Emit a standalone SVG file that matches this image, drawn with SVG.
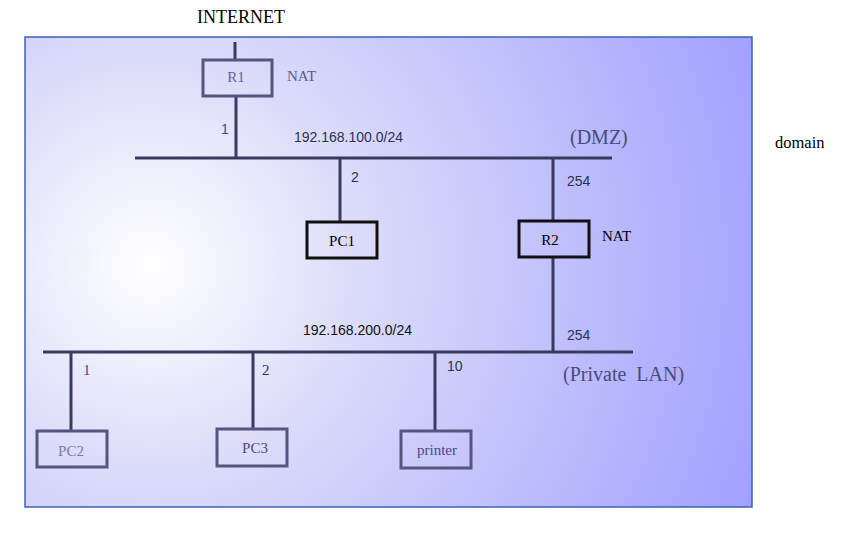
<svg xmlns="http://www.w3.org/2000/svg" width="860" height="550" viewBox="0 0 860 550">
<defs>
<radialGradient id="bg" gradientUnits="userSpaceOnUse" cx="150" cy="265" r="680" fx="150" fy="265">
<stop offset="0" stop-color="#ffffff"/>
<stop offset="0.3" stop-color="#dcdcfa"/>
<stop offset="1" stop-color="#9c9cff"/>
</radialGradient>
<style>
.ser{font-family:"Liberation Serif","Times New Roman",serif}
.san{font-family:"Liberation Sans",Arial,sans-serif}
.wire{stroke:#3a3a5e;stroke-width:3;fill:none}
.box{fill:none;stroke:#55557f;stroke-width:3}
.boxk{fill:none;stroke:#111;stroke-width:3}
.lbl{fill:#4a4a80}
</style>
</defs>
<rect x="0" y="0" width="860" height="550" fill="#fff"/>
<rect x="25" y="37" width="727" height="470" fill="url(#bg)" stroke="#3d62b4" stroke-width="1.5"/>
<text x="197" y="23" class="ser" font-size="18" fill="#000">INTERNET</text>
<text x="775" y="148" class="ser" font-size="16.5" fill="#000">domain</text>
<g id="connectors">
<line class="wire" x1="235" y1="42" x2="235" y2="60"/>
<line class="wire" x1="236" y1="96" x2="236" y2="158"/>
<line class="wire" x1="135" y1="158" x2="612" y2="158"/>
<line class="wire" x1="340" y1="158" x2="340" y2="222"/>
<line class="wire" x1="553" y1="158" x2="553" y2="221"/>
<line class="wire" x1="553" y1="257" x2="553" y2="352"/>
<line class="wire" x1="43" y1="352" x2="633" y2="352"/>
<line class="wire" x1="71" y1="352" x2="71" y2="432"/>
<line class="wire" x1="253" y1="352" x2="253" y2="429"/>
<line class="wire" x1="435" y1="352" x2="435" y2="431"/>
</g>
<g id="labels">
<text x="221" y="134" class="san lbl" font-size="14">1</text>
<text x="294" y="142" class="san" font-size="14" fill="#2f2f55">192.168.100.0/24</text>
<text x="570" y="144" class="ser lbl" font-size="20">(DMZ)</text>
<text x="351" y="182" class="san" font-size="14" fill="#2f2f55">2</text>
<text x="567" y="186" class="san" font-size="14" fill="#2f2f55">254</text>
<text x="303" y="335" class="san" font-size="14" fill="#111">192.168.200.0/24</text>
<text x="567" y="340" class="san" font-size="14" fill="#2f2f55">254</text>
<text x="83" y="375" class="ser lbl" font-size="15">1</text>
<text x="262" y="375" class="ser" font-size="15" fill="#2f2f55">2</text>
<text x="447" y="371" class="san" font-size="14" fill="#2f2f55">10</text>
<text x="563" y="381" class="ser lbl" font-size="20" xml:space="preserve">(Private  LAN)</text>
</g>
<g id="R1">
<rect class="box" x="203" y="60" width="69" height="36" stroke="#5f5f8f"/>
<text x="236" y="82" class="ser" font-size="15" fill="#6464a0" text-anchor="middle">R1</text>
<text x="287" y="81" class="ser" font-size="15" fill="#5a5a90">NAT</text>
</g>
<g id="PC1">
<rect class="boxk" x="307" y="222" width="70" height="36"/>
<text x="342" y="246" class="ser" font-size="15" fill="#000" text-anchor="middle">PC1</text>
</g>
<g id="R2">
<rect class="boxk" x="519" y="221" width="70" height="36"/>
<text x="550" y="245" class="ser" font-size="15" fill="#000" text-anchor="middle">R2</text>
<text x="602" y="241" class="ser" font-size="15" fill="#000">NAT</text>
</g>
<g id="PC2">
<rect class="box" x="37" y="431" width="70" height="36" stroke="#7070a8" stroke-width="2.5"/>
<text x="71" y="456" class="ser" font-size="15" fill="#7878b0" text-anchor="middle">PC2</text>
</g>
<g id="PC3">
<rect class="box" x="217" y="429" width="70" height="37"/>
<text x="255" y="453" class="ser" font-size="15" fill="#4a4a80" text-anchor="middle">PC3</text>
</g>
<g id="printer">
<rect class="box" x="401" y="431" width="70" height="37"/>
<text x="437" y="455" class="ser" font-size="15" fill="#4a4a80" text-anchor="middle">printer</text>
</g>
</svg>
